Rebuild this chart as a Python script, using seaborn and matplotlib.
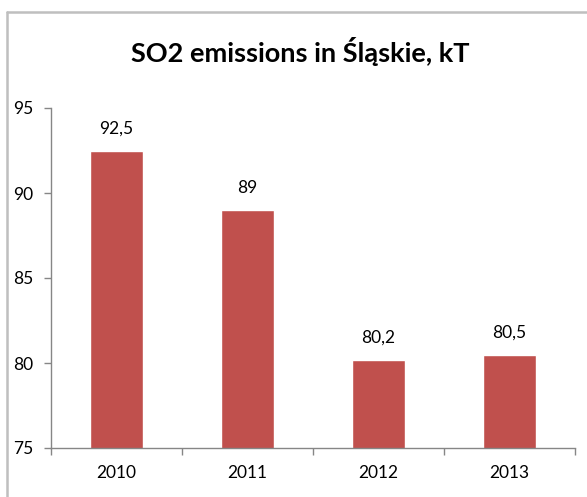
import matplotlib
matplotlib.use('Agg')
import matplotlib.pyplot as plt
import seaborn as sns
import pandas as pd
from matplotlib.lines import Line2D

# dane
years = ['2010', '2011', '2012', '2013']
emissions = [92.5, 89.0, 80.2, 80.5]
labels = ['92,5', '89', '80,2', '80,5']

df = pd.DataFrame({'Rok': years, 'SO2': emissions})

sns.set_style('white')
plt.rcParams['font.family'] = ['Lato', 'DejaVu Sans']
plt.rcParams['text.color'] = 'black'

fig = plt.figure(figsize=(5.87, 4.97), dpi=100)
ax = fig.add_axes([51 / 587, 49 / 497, 524 / 587, 340 / 497])

sns.barplot(data=df, x='Rok', y='SO2', color='#C0504D', width=0.4,
            saturation=1, ax=ax)
ax.bar_label(ax.containers[0], labels=labels, padding=10, fontsize=12.5,
             color='black')

ax.set_ylim(75, 95)
ax.set_yticks([75, 80, 85, 90, 95])
ax.set_xlim(-0.5, 3.5)
ax.set_xticks([-0.5, 0.5, 1.5, 2.5, 3.5], minor=True)
ax.tick_params(axis='x', which='major', length=0, pad=12, labelsize=12.5,
               colors='black')
ax.tick_params(axis='x', which='minor', length=5, width=1, color='#868686',
               direction='out', bottom=True)
ax.tick_params(axis='y', length=5, width=1, color='#868686', direction='out',
               left=True, labelsize=12.5, labelcolor='black', pad=8)
ax.set_xlabel('')
ax.set_ylabel('')

sns.despine(ax=ax)
for s in ['left', 'bottom']:
    ax.spines[s].set_color('#868686')
    ax.spines[s].set_linewidth(1)

fig.text(300 / 587, 1 - 51 / 497, 'SO2 emissions in Śląskie, kT',
         ha='center', va='center', fontsize=19.5, fontweight='bold',
         color='black')

# ramka wykresu (przycięta)
fig.add_artist(Line2D([7 / 587, 1], [1 - 12 / 497, 1 - 12 / 497],
                      color='#BFBFBF', linewidth=1.8))
fig.add_artist(Line2D([7 / 587, 7 / 587], [0, 1 - 12 / 497],
                      color='#BFBFBF', linewidth=1.8))

fig.savefig('out.png', dpi=100)
